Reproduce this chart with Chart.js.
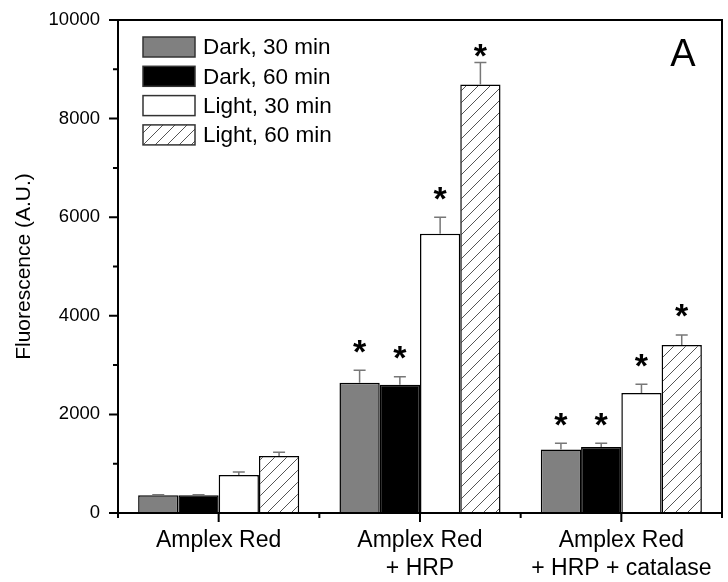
<!DOCTYPE html>
<html>
<head>
<meta charset="utf-8">
<script src="https://cdn.jsdelivr.net/npm/chart.js@4/dist/chart.umd.min.js"></script>
<style>
  html, body { margin: 0; padding: 0; background: #fff; }
  #wrap { width: 728px; height: 582px; }
</style>
</head>
<body>
<div id="wrap"><canvas id="chart" width="728" height="582"></canvas></div>
<script>
// categories and series
const categories = [['Amplex Red'], ['Amplex Red', '+ HRP'], ['Amplex Red', '+ HRP + catalase']];
const seriesNames = ['Dark, 30 min', 'Dark, 60 min', 'Light, 30 min', 'Light, 60 min'];

const dark30 = [360, 2640, 1290];
const dark60 = [360, 2600, 1340];
const light30 = [770, 5665, 2435];
const light60 = [1155, 8690, 3410];

// upper error (SE) for each bar
const dark30Err = [10, 255, 125];
const dark60Err = [10, 165, 75];
const light30Err = [60, 335, 175];
const light60Err = [75, 450, 200];

// significance marks (*)
const dark30Sig = [false, true, true];
const dark60Sig = [false, true, true];
const light30Sig = [false, true, true];
const light60Sig = [false, true, true];

const yTicks = [0, 2000, 4000, 6000, 8000, 10000];

const FONT = '"Liberation Sans", Arial, Helvetica, sans-serif';

const canvas = document.getElementById('chart');
const ctx = canvas.getContext('2d');

/**
 * Diagonal "/" hatching used for the Light, 60 min bars
 */
function makeHatch() {
    const c = document.createElement('canvas');
    c.width = 12; c.height = 12;
    const g = c.getContext('2d');
    g.fillStyle = '#fff';
    g.fillRect(0, 0, 12, 12);
    g.strokeStyle = '#555';
    g.lineWidth = 1;
    g.beginPath();
    g.moveTo(-2, 14); g.lineTo(14, -2);
    g.moveTo(-2, 2); g.lineTo(2, -2);
    g.moveTo(10, 14); g.lineTo(14, 10);
    g.stroke();
    return ctx.createPattern(c, 'repeat');
}
const hatch = makeHatch();

const errors = [dark30Err, dark60Err, light30Err, light60Err];
const sigs = [dark30Sig, dark60Sig, light30Sig, light60Sig];

// error bars, stars, frame, ticks, legend and panel letter
const decorations = {
    id: 'decorations',
    afterDatasetsDraw(chart) {
        const { ctx, chartArea: area, scales: { x, y } } = chart;
        ctx.save();
        chart.data.datasets.forEach((ds, di) => {
            const meta = chart.getDatasetMeta(di);
            meta.data.forEach((bar, i) => {
                const top = y.getPixelForValue(ds.data[i] + errors[di][i]);
                const base = y.getPixelForValue(ds.data[i]);
                ctx.strokeStyle = '#777';
                ctx.lineWidth = 1.5;
                ctx.beginPath();
                ctx.moveTo(bar.x, base);
                ctx.lineTo(bar.x, top);
                ctx.moveTo(bar.x - 6, top);
                ctx.lineTo(bar.x + 6, top);
                ctx.stroke();
                if (sigs[di][i]) {
                    const cy = Math.max(top - 25, area.top + 30);
                    ctx.fillStyle = '#000';
                    ctx.font = 'bold 34px ' + FONT;
                    ctx.textAlign = 'center';
                    ctx.textBaseline = 'middle';
                    ctx.fillText('*', bar.x, cy + 8);
                }
            });
        });
        ctx.restore();
    },
    afterDraw(chart) {
        const { ctx, chartArea: area, scales: { x, y } } = chart;
        ctx.save();
        ctx.strokeStyle = '#000';
        ctx.lineWidth = 2;
        // frame
        ctx.beginPath();
        ctx.moveTo(area.left, area.bottom);
        ctx.lineTo(area.left, area.top);
        ctx.lineTo(area.right, area.top);
        ctx.lineTo(area.right, area.bottom);
        ctx.lineTo(area.left, area.bottom);
        ctx.stroke();
        // y ticks, major and minor
        ctx.beginPath();
        for (let v = 0; v <= 10000; v += 1000) {
            const py = y.getPixelForValue(v);
            const len = v % 2000 === 0 ? 9 : 5;
            ctx.moveTo(area.left - len, py);
            ctx.lineTo(area.left, py);
        }
        // x ticks: major at groups, minor between groups
        const n = chart.data.labels.length;
        for (let i = 0; i < n; i++) {
            const px = x.getPixelForValue(i);
            ctx.moveTo(px, area.bottom);
            ctx.lineTo(px, area.bottom + 9);
        }
        for (let i = 0; i <= n; i++) {
            const px = x.getPixelForValue(i - 0.5);
            ctx.moveTo(px, area.bottom);
            ctx.lineTo(px, area.bottom + 5);
        }
        ctx.stroke();

        // legend
        ctx.font = '22.5px ' + FONT;
        ctx.textAlign = 'left';
        ctx.textBaseline = 'middle';
        chart.data.datasets.forEach((ds, di) => {
            const cy = area.top + 27 + di * 29.3;
            ctx.fillStyle = ds.backgroundColor;
            ctx.fillRect(area.left + 25, cy - 10, 52, 20);
            ctx.strokeStyle = '#333';
            ctx.lineWidth = 1.5;
            ctx.strokeRect(area.left + 25, cy - 10, 52, 20);
            ctx.fillStyle = '#000';
            ctx.fillText(ds.label, area.left + 85, cy + 1);
        });

        // panel letter
        ctx.font = '38px ' + FONT;
        ctx.textAlign = 'center';
        ctx.textBaseline = 'alphabetic';
        ctx.fillText('A', 683, 66);
        ctx.restore();
    }
};

new Chart(ctx, {
    type: 'bar',
    data: {
        labels: categories,
        datasets: [
            { label: seriesNames[0], data: dark30, backgroundColor: '#808080' },
            { label: seriesNames[1], data: dark60, backgroundColor: '#000000' },
            { label: seriesNames[2], data: light30, backgroundColor: '#ffffff' },
            { label: seriesNames[3], data: light60, backgroundColor: hatch },
        ].map(ds => ({ ...ds, borderColor: '#000', borderWidth: 1.5, categoryPercentage: 0.8, barPercentage: 1.0 }))
    },
    options: {
        responsive: false,
        animation: false,
        devicePixelRatio: 1,
        layout: { padding: { left: 0, right: 6, top: 20, bottom: 0 } },
        plugins: {
            legend: { display: false },
            tooltip: { enabled: false }
        },
        scales: {
            x: {
                grid: { display: false, drawTicks: false },
                border: { display: false },
                ticks: {
                    color: '#000',
                    font: { family: FONT, size: 23 },
                    padding: 14,
                    maxRotation: 0,
                    autoSkip: false
                },
                afterFit: (scale) => {
                    scale.height = 69;
                    scale.paddingLeft = 0;
                    scale.paddingRight = 0;
                }
            },
            y: {
                min: 0,
                max: 10000,
                grid: { display: false, drawTicks: false },
                border: { display: false },
                afterBuildTicks: (scale) => { scale.ticks = yTicks.map(v => ({ value: v })); },
                ticks: {
                    color: '#000',
                    font: { family: FONT, size: 18.5 },
                    padding: 18,
                    callback: (v) => String(v)
                },
                title: {
                    display: true,
                    text: 'Fluorescence (A.U.)',
                    color: '#000',
                    font: { family: FONT, size: 21 },
                    padding: { top: 12, bottom: 0 }
                },
                afterFit: (scale) => {
                    scale.width = 118;
                    scale.paddingTop = 0;
                    scale.paddingBottom = 0;
                }
            }
        }
    },
    plugins: [decorations]
});
</script>
</body>
</html>
